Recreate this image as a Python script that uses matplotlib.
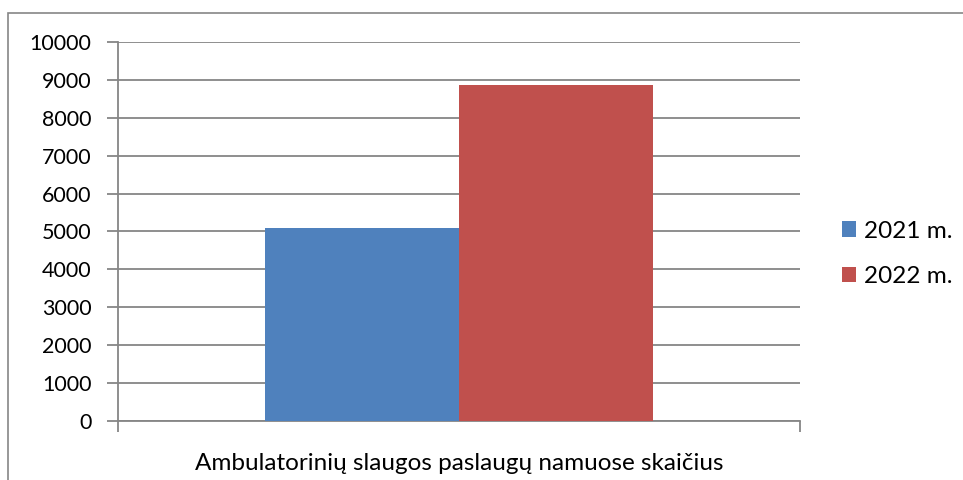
import numpy as np
import matplotlib.pyplot as plt
from matplotlib.patches import Rectangle

category = "Ambulatorinių slaugos paslaugų namuose skaičius"
series = ["2021 m.", "2022 m."]
values = [5090, 8860]
colors = ["#4f81bd", "#c0504d"]
yticks = list(range(0, 10001, 1000))

plt.rcParams['font.family'] = ['Lato', 'DejaVu Sans']

fig = plt.figure(figsize=(9.63, 4.8), dpi=100)
ax = fig.add_axes([118 / 963, 1 - 421 / 480, (800 - 118) / 963, (421 - 42) / 480])

# outer chart frame (only left and top are visible in the crop)
fig.patches.append(Rectangle((8 / 963, -0.1), 1.2, 1 - 13 / 480 + 0.1,
                             transform=fig.transFigure, fill=False,
                             edgecolor="#868686", linewidth=1.2))

gray = "#868686"
bar_w = 0.285
offsets = [-bar_w / 2, bar_w / 2]
for name, val, col, off in zip(series, values, colors, offsets):
    ax.bar(0.5 + off, val, width=bar_w, color=col, label=name, zorder=3)

ax.set_xlim(0, 1)
ax.set_ylim(0, 10000)
ax.set_yticks(yticks)
ax.set_yticklabels([str(t) for t in yticks], fontsize=15.5)
ax.yaxis.grid(True, color=gray, linewidth=1.3, zorder=0)
ax.set_axisbelow(True)

ax.set_xticks([0, 1])
ax.set_xticklabels(["", ""])
ax.tick_params(axis='x', length=8, width=1.3, color=gray, direction='out')
ax.tick_params(axis='y', length=8, width=1.3, color=gray, direction='out', pad=11)
ax.text(0.5, -0.085, category, transform=ax.transAxes, ha='center', va='top', fontsize=17.5)

for side in ["top", "right"]:
    ax.spines[side].set_visible(False)
for side in ["left", "bottom"]:
    ax.spines[side].set_color(gray)
    ax.spines[side].set_linewidth(1.3)

leg = ax.legend(loc='center left', bbox_to_anchor=(1.029, 0.441), frameon=False,
                fontsize=17.5, handlelength=0.6, handleheight=0.6,
                handletextpad=0.3, labelspacing=1.0)

fig.savefig("out.png", dpi=100)
